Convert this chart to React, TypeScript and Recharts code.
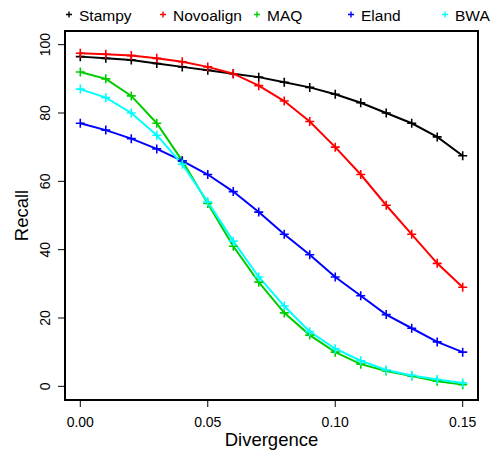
import React from 'react';
import {
  LineChart,
  Line,
  XAxis,
  YAxis,
  Legend,
  ReferenceArea,
} from 'recharts';

const FONT = '"Liberation Sans", Arial, Helvetica, sans-serif';

// x values (sequence divergence)
const divergence = [
  0, 0.01, 0.02, 0.03, 0.04, 0.05, 0.06, 0.07, 0.08, 0.09, 0.1, 0.11, 0.12, 0.13, 0.14, 0.15,
];

// recall (%) per aligner
const stampy = [96.5, 96, 95.5, 94.5, 93.5, 92.5, 91.5, 90.5, 89, 87.5, 85.5, 83, 80, 77, 73, 67.5];
const novoalign = [97.5, 97.2, 96.8, 96, 95, 93.5, 91.5, 88, 83.5, 77.5, 70, 62, 53, 44.5, 36, 29];
const maq = [92, 90, 85, 77, 66, 53.5, 41, 30.5, 21.5, 15, 10, 6.5, 4.5, 3, 1.5, 0.5];
const eland = [77, 75, 72.5, 69.5, 66, 62, 57, 51, 44.5, 38.5, 32, 26.5, 21, 17, 13, 10];
const bwa = [87, 84.5, 80, 73.5, 65, 54, 42.5, 32, 23.5, 16, 11, 7.5, 4.8, 3.2, 2, 1];

const xTicks = [0, 0.05, 0.1, 0.15];
const yTicks = [0, 20, 40, 60, 80, 100];

const SERIES = [
  { key: 'Stampy', values: stampy, color: '#000000' },
  { key: 'Novoalign', values: novoalign, color: '#FF0000' },
  { key: 'MAQ', values: maq, color: '#00CD00' },
  { key: 'Eland', values: eland, color: '#0000FF' },
  { key: 'BWA', values: bwa, color: '#00FFFF' },
];

const data = divergence.map((d, i) => {
  const row: Record<string, number> = { divergence: d };
  SERIES.forEach((s) => {
    row[s.key] = s.values[i];
  });
  return row;
});

/**
 * plus-sign marker, like R's pch = 3
 */
const plusDot = (color: string, half: number) => (props: any) => {
  const { cx, cy, index } = props;
  if (cx == null || cy == null) return <g key={index} />;
  return (
    <path
      key={index}
      d={`M${cx - half},${cy}H${cx + half}M${cx},${cy - half}V${cy + half}`}
      stroke={color}
      strokeWidth={1.6}
      fill="none"
    />
  );
};

const YTick = (props: any) => {
  const { x, y, payload } = props;
  return (
    <text
      x={x}
      y={y}
      transform={`rotate(-90, ${x}, ${y})`}
      textAnchor="middle"
      fontSize={14}
      fontFamily={FONT}
      fill="#000"
    >
      {payload.value}
    </text>
  );
};

const LegendRow = () => (
  <svg width={495} height={26} style={{ display: 'block' }}>
    {SERIES.map((s, i) => {
      const px = 69 + i * 94;
      return (
        <g key={s.key}>
          <path
            d={`M${px - 3},14.5H${px + 3}M${px},11.5V17.5`}
            stroke={s.color}
            strokeWidth={1.4}
          />
          <text x={px + 10} y={21} fontSize={15.5} fontFamily={FONT} fill="#000">
            {s.key}
          </text>
        </g>
      );
    })}
  </svg>
);

export default function App() {
  return (
    <div style={{ position: 'absolute', left: 0, top: 0, background: '#fff' }}>
      <LineChart
        width={495}
        height={451}
        data={data}
        margin={{ top: 5, right: 17, bottom: 0, left: 0 }}
      >
        <Legend
          verticalAlign="top"
          align="left"
          content={() => <LegendRow />}
          wrapperStyle={{ top: 0, left: 0, width: 495, height: 26 }}
        />
        <XAxis
          type="number"
          dataKey="divergence"
          domain={[-0.006, 0.156]}
          ticks={xTicks}
          allowDataOverflow
          tickFormatter={(v: number) => v.toFixed(2)}
          axisLine={false}
          tickLine={{ stroke: '#000', strokeWidth: 1 }}
          tickSize={7}
          tickMargin={10}
          height={51}
          tick={{ fill: '#000', fontSize: 14, fontFamily: FONT }}
          label={{
            value: 'Divergence',
            position: 'insideBottom',
            offset: 5,
            fill: '#000',
            fontSize: 18.5,
            fontFamily: FONT,
          }}
        />
        <YAxis
          type="number"
          domain={[-4, 104]}
          ticks={yTicks}
          allowDataOverflow
          axisLine={false}
          tickLine={{ stroke: '#000', strokeWidth: 1 }}
          tickSize={7}
          tickMargin={8}
          width={65}
          tick={<YTick />}
          label={{
            value: 'Recall',
            angle: -90,
            position: 'insideLeft',
            offset: 0,
            content: (p: any) => {
              const vb = p.viewBox || { y: 31, height: 369 };
              const cy = vb.y + vb.height / 2;
              return (
                <text
                  x={28}
                  y={cy}
                  transform={`rotate(-90, 28, ${cy})`}
                  textAnchor="middle"
                  fontSize={18.5}
                  fontFamily={FONT}
                  fill="#000"
                >
                  Recall
                </text>
              );
            },
          }}
        />
        <ReferenceArea
          x1={-0.006}
          x2={0.156}
          y1={-4}
          y2={104}
          fill="none"
          stroke="#000"
          strokeWidth={2}
          ifOverflow="visible"
        />
        {SERIES.map((s) => (
          <Line
            key={s.key}
            type="linear"
            dataKey={s.key}
            stroke={s.color}
            strokeWidth={2}
            dot={plusDot(s.color, 4.5)}
            activeDot={false}
            isAnimationActive={false}
          />
        ))}
      </LineChart>
    </div>
  );
}
